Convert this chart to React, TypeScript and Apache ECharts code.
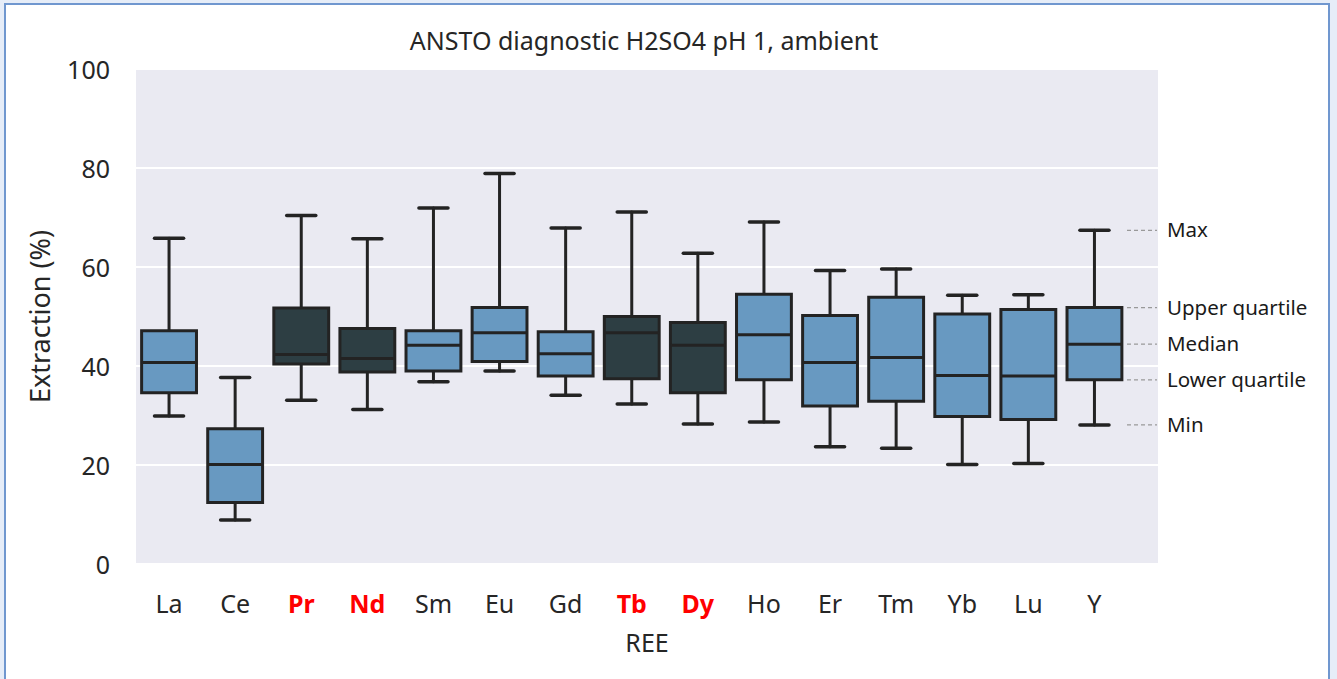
import React, { useEffect, useRef } from "react";
import * as echarts from "echarts";

const categories = ["La", "Ce", "Pr", "Nd", "Sm", "Eu", "Gd", "Tb", "Dy", "Ho", "Er", "Tm", "Yb", "Lu", "Y"];
const highlighted = ["Pr", "Nd", "Tb", "Dy"];
// [min, q1, median, q3, max]
const mins = [29.9, 8.9, 33.1, 31.2, 36.8, 39.0, 34.1, 32.3, 28.3, 28.7, 23.7, 23.4, 20.1, 20.3, 28.1];
const q1s = [34.6, 12.4, 40.4, 38.8, 39.0, 40.9, 38.0, 37.4, 34.6, 37.2, 31.9, 32.9, 29.8, 29.2, 37.2];
const medians = [40.7, 20.1, 42.3, 41.5, 44.2, 46.7, 42.5, 46.7, 44.2, 46.3, 40.7, 41.7, 38.1, 38.0, 44.4];
const q3s = [47.1, 27.3, 51.7, 47.6, 47.1, 51.8, 46.9, 50.0, 48.8, 54.5, 50.2, 53.9, 50.5, 51.4, 51.8];
const maxs = [65.8, 37.7, 70.4, 65.7, 71.9, 78.9, 67.9, 71.1, 62.8, 69.1, 59.3, 59.6, 54.3, 54.4, 67.4];
const yTicks = [0, 20, 40, 60, 80, 100];
const legendLabels = ["Max", "Upper quartile", "Median", "Lower quartile", "Min"];

const FONT = "'Noto Sans', 'Open Sans', sans-serif";

export default function App() {
  const ref = useRef<HTMLDivElement>(null);
  useEffect(() => {
    if (!ref.current) return;
    const chart = echarts.init(ref.current, undefined, { renderer: "svg" });
    const data = categories.map((_, i) => [i, mins[i], q1s[i], medians[i], q3s[i], maxs[i]]);
    const option: any = {
      animation: false,
      backgroundColor: "#e6edf8",
      textStyle: { fontFamily: FONT },
      title: {
        text: "ANSTO diagnostic H2SO4 pH 1, ambient",
        left: 639,
        top: 22,
        textAlign: "center",
        textStyle: { fontSize: 25, fontWeight: "normal", color: "#262626", fontFamily: FONT },
      },
      grid: [
        { left: 136, right: 209.5, top: 69, bottom: 115, show: false },
        { left: 136, right: 179, top: 69, bottom: 115, show: true, backgroundColor: "#eaeaf2", borderWidth: 0, z: -1 },
      ],
      xAxis: [
        {
          type: "category",
          gridIndex: 0,
          data: categories,
          axisLine: { show: false },
          axisTick: { show: false },
          axisLabel: {
            interval: 0,
            margin: 26,
            fontSize: 25,
            color: "#262626",
            fontFamily: FONT,
            formatter: (v: string) => (highlighted.includes(v) ? `{r|${v}}` : `{n|${v}}`),
            rich: {
              r: { color: "#ff0000", fontWeight: "bold", fontSize: 25, fontFamily: FONT },
              n: { color: "#262626", fontSize: 25, fontFamily: FONT },
            },
          },
        },
        {
          type: "value",
          gridIndex: 1,
          min: 0,
          max: 1,
          axisLine: { show: false },
          axisTick: { show: false },
          axisLabel: { show: false },
          splitLine: { show: false },
          name: "REE",
          nameLocation: "middle",
          nameGap: 65,
          nameTextStyle: { fontSize: 25, color: "#262626", fontFamily: FONT },
        },
      ],
      yAxis: [
        {
          type: "value",
          gridIndex: 0,
          min: yTicks[0],
          max: yTicks[yTicks.length - 1],
          interval: 20,
          axisLine: { show: false },
          axisTick: { show: false },
          splitLine: { show: false },
          axisLabel: { margin: 26, fontSize: 25, color: "#262626", fontFamily: FONT },
          name: "Extraction (%)",
          nameLocation: "middle",
          nameRotate: 90,
          nameGap: 83,
          nameTextStyle: { fontSize: 27, color: "#262626", fontFamily: FONT },
        },
        {
          type: "value",
          gridIndex: 1,
          min: yTicks[0],
          max: yTicks[yTicks.length - 1],
          interval: 20,
          axisLine: { show: false },
          axisTick: { show: false },
          axisLabel: { show: false },
          splitLine: { show: true, lineStyle: { color: "#ffffff", width: 2 } },
        },
      ],
      series: [
        {
          type: "custom",
          xAxisIndex: 0,
          yAxisIndex: 0,
          data,
          encode: { x: 0, y: [1, 2, 3, 4, 5] },
          z: 5,
          renderItem: (params: any, api: any) => {
            const idx = api.value(0);
            const [x, yMin] = api.coord([idx, api.value(1)]);
            const yQ1 = api.coord([idx, api.value(2)])[1];
            const yMed = api.coord([idx, api.value(3)])[1];
            const yQ3 = api.coord([idx, api.value(4)])[1];
            const yMax = api.coord([idx, api.value(5)])[1];
            const band = api.size([1, 0])[0];
            const bw = band * 0.83;
            const cw = bw * 0.53;
            const fill = highlighted.includes(categories[idx]) ? "#2d3e43" : "#6899c1";
            const stroke = "#232323";
            const ls = { stroke, lineWidth: 3, lineCap: "round" };
            return {
              type: "group",
              children: [
                { type: "line", shape: { x1: x, y1: yMax, x2: x, y2: yQ3 }, style: ls },
                { type: "line", shape: { x1: x, y1: yQ1, x2: x, y2: yMin }, style: ls },
                { type: "line", shape: { x1: x - cw / 2, y1: yMax, x2: x + cw / 2, y2: yMax }, style: { ...ls, lineWidth: 3.5 } },
                { type: "line", shape: { x1: x - cw / 2, y1: yMin, x2: x + cw / 2, y2: yMin }, style: { ...ls, lineWidth: 3.5 } },
                {
                  type: "rect",
                  shape: { x: x - bw / 2, y: yQ3, width: bw, height: yQ1 - yQ3 },
                  style: { fill, stroke, lineWidth: 3 },
                },
                { type: "line", shape: { x1: x - bw / 2, y1: yMed, x2: x + bw / 2, y2: yMed }, style: { stroke, lineWidth: 3 } },
              ],
            };
          },
        },
      ],
      graphic: [
        {
          type: "rect",
          z: -10,
          silent: true,
          shape: { x: 5, y: 4, width: 1324, height: 700 },
          style: { fill: "#ffffff", stroke: "#7097cf", lineWidth: 2 },
        },
      ],
    };
    chart.setOption(option);

    // annotations keyed to the last category's (Y) statistics
    const last = categories.length - 1;
    const statVals = [maxs[last], q3s[last], medians[last], q1s[last], mins[last]];
    const ann: any[] = [];
    statVals.forEach((v, i) => {
      const y = chart.convertToPixel({ yAxisIndex: 0 }, v) as number;
      ann.push({
        type: "line",
        silent: true,
        shape: { x1: 1127, y1: y, x2: 1157, y2: y },
        style: { stroke: "#999999", lineWidth: 1.2, lineDash: [4, 3] },
        z: 10,
      });
      ann.push({
        type: "text",
        silent: true,
        x: 1167,
        y: y - 1,
        style: {
          text: legendLabels[i],
          fontSize: 20.5,
          fontFamily: FONT,
          fill: "#1a1a1a",
          verticalAlign: "middle",
          align: "left",
        },
        z: 10,
      });
    });
    chart.setOption({ graphic: [option.graphic[0], ...ann] });
    return () => chart.dispose();
  }, []);
  return <div ref={ref} style={{ position: "fixed", left: 0, top: 0, width: 1337, height: 679 }} />;
}
